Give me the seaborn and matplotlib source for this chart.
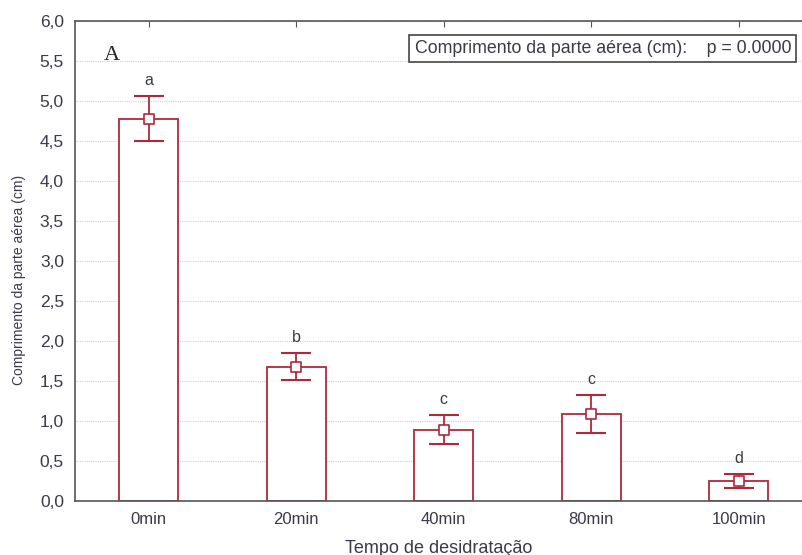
import matplotlib.pyplot as plt
import matplotlib.ticker as mticker
import pandas as pd
import seaborn as sns

# data
tempos = ["0min", "20min", "40min", "80min", "100min"]
medias = [4.78, 1.68, 0.89, 1.09, 0.25]
erros = [0.28, 0.17, 0.18, 0.24, 0.09]
letras = ["a", "b", "c", "c", "d"]

df = pd.DataFrame({"tempo": tempos, "comprimento": medias})

sns.set_style("white")
plt.rcParams["font.family"] = ["Liberation Sans", "DejaVu Sans"]

RED = "#b0283c"
TXT = "#3a3a48"

fig = plt.figure(figsize=(8.02, 5.55), dpi=100)
ax = fig.add_axes([0.0935, 0.0973, 0.9065, 0.8648])

sns.barplot(data=df, x="tempo", y="comprimento", ax=ax, width=0.4,
            color="white", edgecolor=RED, linewidth=1.3, errorbar=None, zorder=2)

xs = list(range(len(tempos)))
ax.errorbar(xs, medias, yerr=erros, fmt="none", ecolor=RED, elinewidth=1.3,
            capsize=11, capthick=1.5, zorder=3)
ax.scatter(xs, medias, marker="s", s=45, facecolor="white", edgecolor=RED,
           linewidth=1.2, zorder=4)

for x, m, e, l in zip(xs, medias, erros, letras):
    ax.text(x, m + e + 0.1, l, ha="center", va="bottom", fontsize=11.5, color=TXT)

ax.set_ylim(0, 6.0)
ax.set_xlim(-0.5, 4.43)
ax.yaxis.set_major_locator(mticker.MultipleLocator(0.5))
ax.yaxis.set_major_formatter(mticker.FuncFormatter(lambda v, p: f"{v:.1f}".replace(".", ",")))
ax.grid(True, axis="y", color="#cfcfcf", linestyle=(0, (1, 1)), linewidth=0.8, zorder=0)
ax.set_axisbelow(True)

for side in ["left", "bottom", "top"]:
    ax.spines[side].set_color("#555555")
    ax.spines[side].set_linewidth(1.2)
ax.spines["right"].set_visible(False)

ax.tick_params(axis="y", direction="in", length=3, labelsize=12.5, labelcolor=TXT,
               color="#555555", pad=8)
ax.tick_params(axis="x", direction="in", length=4, labelsize=12, labelcolor=TXT,
               top=True, color="#555555", pad=8)

ax.set_xlabel("Tempo de desidratação", fontsize=13, color=TXT, labelpad=9)
ax.set_ylabel("Comprimento da parte aérea (cm)", fontsize=10, color=TXT)
ax.yaxis.set_label_coords(-0.067, 0.46)

ax.text(0.04, 0.929, "A", transform=ax.transAxes, fontsize=16,
        family=["Liberation Serif", "DejaVu Serif"], ha="left", va="center")

ax.text(0.985, 0.943, "Comprimento da parte aérea (cm):    p = 0.0000",
        transform=ax.transAxes, ha="right", va="center", fontsize=12.8, color=TXT,
        bbox=dict(boxstyle="square,pad=0.3", facecolor="white", edgecolor="#444444", linewidth=1.2))

fig.savefig("out.png", dpi=100)
